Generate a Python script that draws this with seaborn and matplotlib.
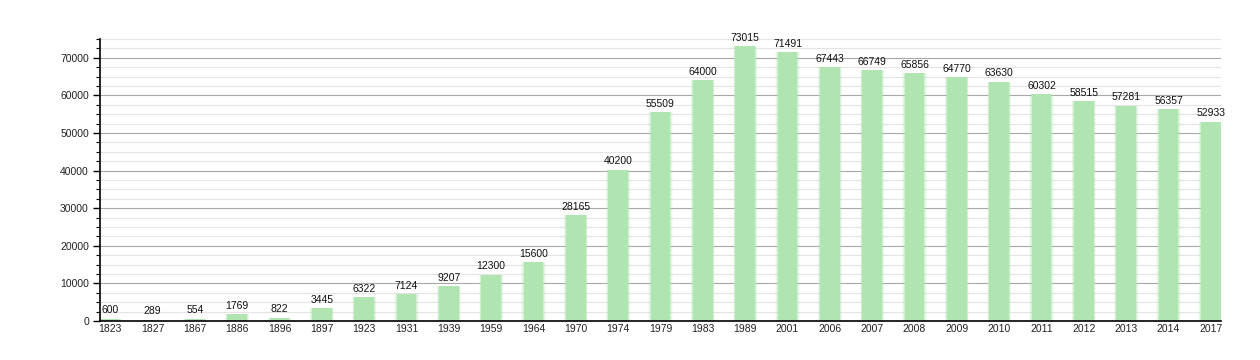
import matplotlib
matplotlib.use("Agg")
import matplotlib.pyplot as plt
import seaborn as sns
import pandas as pd
from matplotlib.ticker import MultipleLocator

years = ["1823", "1827", "1867", "1886", "1896", "1897", "1923", "1931", "1939", "1959",
         "1964", "1970", "1974", "1979", "1983", "1989", "2001", "2006", "2007", "2008",
         "2009", "2010", "2011", "2012", "2013", "2014", "2017"]
population = [600, 289, 554, 1769, 822, 3445, 6322, 7124, 9207, 12300,
              15600, 28165, 40200, 55509, 64000, 73015, 71491, 67443, 66749, 65856,
              64770, 63630, 60302, 58515, 57281, 56357, 52933]

df = pd.DataFrame({"year": years, "pop": population})

sns.set_theme(style="white")
plt.rcParams['font.family'] = ['Liberation Sans', 'DejaVu Sans']

fig = plt.figure(figsize=(12.6, 3.6), dpi=100)
ax = fig.add_axes([100/1260, 39/360, 1121/1260, 282/360])

bar_color = "#b0e4b0"
layers = [(0.58, 0.12), (0.54, 0.2), (0.51, 0.3), (0.47, 1.0)]
for w, a in layers:
    sns.barplot(data=df, x="year", y="pop", color=bar_color, width=w, alpha=a,
                saturation=1, ax=ax, errorbar=None, linewidth=0)

cont = ax.containers[-1]
ax.bar_label(cont, labels=[str(v) for v in population], padding=2.5, fontsize=7.5,
             color="#111111")

n = len(years)
ax.set_xlim(-0.24, n - 1 + 0.24)
ax.set_ylim(0, 75000)
ax.yaxis.set_major_locator(MultipleLocator(10000))
ax.yaxis.set_minor_locator(MultipleLocator(2500))
ax.grid(which="major", axis="y", color="#a8a8a8", linewidth=0.8)
ax.grid(which="minor", axis="y", color="#e4e4e4", linewidth=0.8)
ax.set_axisbelow(True)

for s in ["top", "right"]:
    ax.spines[s].set_visible(False)
for s in ["left", "bottom"]:
    ax.spines[s].set_color("black")
    ax.spines[s].set_linewidth(1.2)

ax.tick_params(axis="y", which="major", left=True, length=5, width=1, labelsize=7.5, pad=3,
               color="black", labelcolor="#222222")
ax.tick_params(axis="y", which="minor", left=True, length=3, width=0.8, color="black")
ax.tick_params(axis="x", which="major", bottom=False, length=0, labelsize=7.5, pad=2,
               labelcolor="#222222")
ax.set_xlabel("")
ax.set_ylabel("")

fig.savefig("out.png", dpi=100)
